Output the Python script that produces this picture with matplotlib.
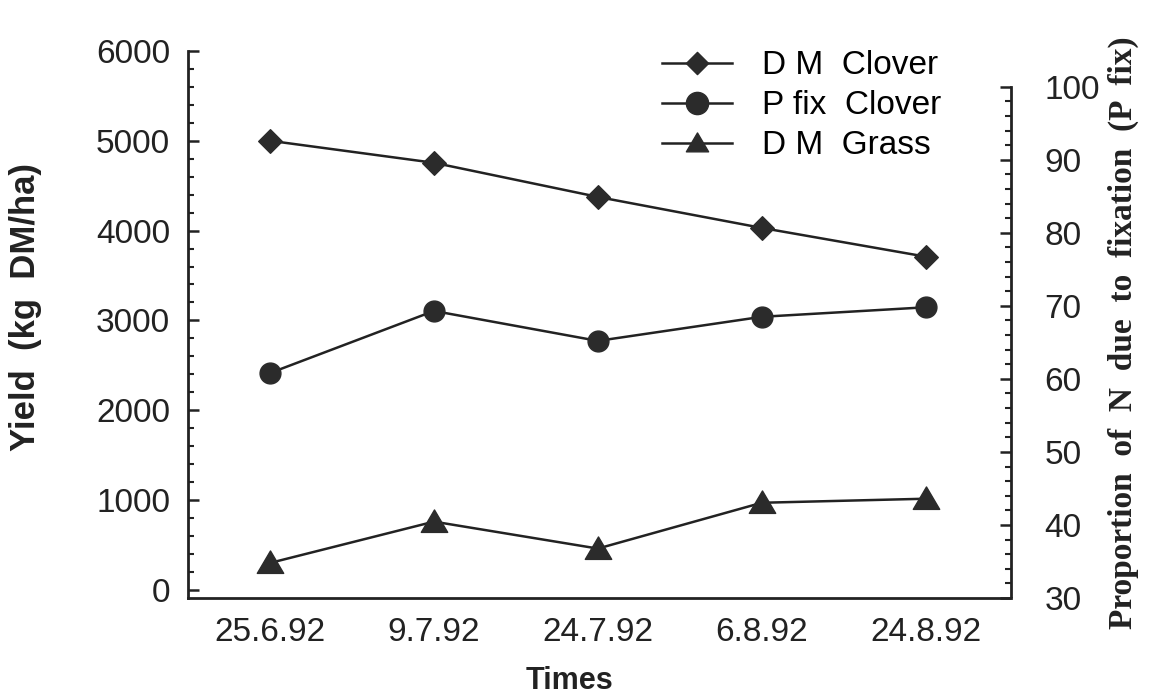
import numpy as np
from matplotlib import pyplot as plt
from matplotlib.path import Path
from matplotlib.ticker import MultipleLocator, FixedLocator

# data
times = ["25.6.92", "9.7.92", "24.7.92", "6.8.92", "24.8.92"]
dm_clover = [5000, 4755, 4375, 4030, 3710]
p_fix_clover = [60.8, 69.3, 65.2, 68.5, 69.8]
dm_grass = [300, 760, 460, 970, 1015]

plt.rcParams['font.family'] = ['Liberation Sans', 'DejaVu Sans']
ink = '#222222'
mark = '#2b2b2b'

diamond = Path([(-1, 0), (0, 1), (1, 0), (0, -1), (-1, 0)],
               [Path.MOVETO, Path.LINETO, Path.LINETO, Path.LINETO, Path.CLOSEPOLY])
triangle = Path([(-1, -0.75), (0, 0.95), (1, -0.75), (-1, -0.75)],
                [Path.MOVETO, Path.LINETO, Path.LINETO, Path.CLOSEPOLY])

fig = plt.figure(figsize=(11.54, 6.98), dpi=100)
ax = fig.add_axes([0.163, 0.1433, 0.713, 0.7837])
ax2 = ax.twinx()

x = np.arange(len(times))
l1, = ax.plot(x, dm_clover, color=ink, lw=1.8, marker=diamond, ms=17,
              mfc=mark, mec=mark, label="D M  Clover")
l3, = ax.plot(x, dm_grass, color=ink, lw=1.8, marker=triangle, ms=19,
              mfc=mark, mec=mark, label="D M  Grass")
l2, = ax2.plot(x, p_fix_clover, color=ink, lw=1.8, marker='o', ms=15,
               mfc=mark, mec=mark, label="P fix  Clover")

ax.set_xlim(-0.5, 4.52)
ax.set_ylim(-90, 6000)
ax2.set_ylim(30.3, 104.9)

for a in (ax, ax2):
    a.spines['top'].set_visible(False)
    for s in a.spines.values():
        s.set_linewidth(2)
        s.set_color(ink)
ax.spines['right'].set_visible(False)
ax2.spines['left'].set_visible(False)
ax2.spines['bottom'].set_visible(False)
ax2.spines['right'].set_bounds(30.3, 100)

ax.set_xticks(x)
ax.set_xticklabels(times)
ax.tick_params(axis='x', length=0, pad=14, labelsize=24, colors=ink)

ax.yaxis.set_major_locator(MultipleLocator(1000))
ax.yaxis.set_minor_locator(MultipleLocator(200))
ax.tick_params(axis='y', which='major', direction='in', length=8, width=1.8,
               pad=13, labelsize=24, colors=ink)
ax.tick_params(axis='y', which='minor', direction='in', length=4, width=1.5, colors=ink)

ax2.set_yticks(np.arange(30, 101, 10))
ax2.yaxis.set_minor_locator(FixedLocator(np.arange(32, 100, 2)))
ax2.tick_params(axis='y', which='major', direction='in', length=8, width=1.8,
                pad=24, labelsize=24, colors=ink)
ax2.tick_params(axis='y', which='minor', direction='in', length=4, width=1.5, colors=ink)

ax.set_xlabel("Times", fontsize=22, fontweight='bold', color=ink)
ax.xaxis.set_label_coords(0.463, -0.124)
ax.set_ylabel("Yield  (kg  DM/ha)", fontsize=25, fontweight='bold', color=ink)
ax.yaxis.set_label_coords(-0.177, 0.532)
ax2.set_ylabel("Proportion  of  N  due  to  fixation  (P  fix)", fontsize=24,
               fontweight='bold', family=['Liberation Serif', 'DejaVu Serif'],
               color=ink, rotation=90)
ax2.yaxis.set_label_coords(1.118, 0.485)

leg = ax2.legend([l1, l2, l3], [l1.get_label(), l2.get_label(), l3.get_label()],
                 loc='upper left', bbox_to_anchor=(0.5737, 0.928),
                 bbox_transform=fig.transFigure, frameon=False, fontsize=24,
                 handlelength=2.1, handletextpad=0.9, labelspacing=0.27,
                 borderaxespad=0, borderpad=0)
for h in leg.legend_handles:
    h.set_markersize(16)

fig.savefig("out.png", dpi=100)
